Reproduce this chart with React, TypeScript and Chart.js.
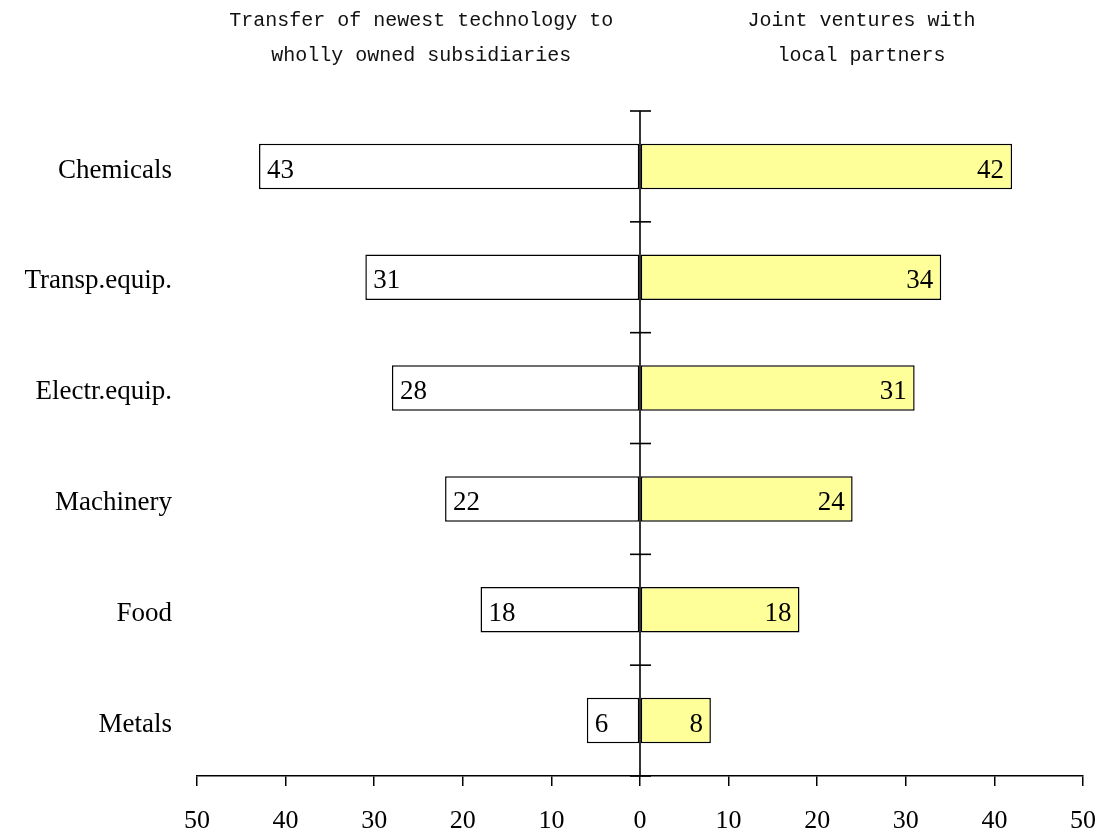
import React, { useEffect, useRef } from "react";
import { Chart, registerables } from "chart.js";

Chart.register(...registerables);

const categories = ["Chemicals", "Transp.equip.", "Electr.equip.", "Machinery", "Food", "Metals"];
const whollyOwned = [43, 31, 28, 22, 18, 6];
const jointVentures = [42, 34, 31, 24, 18, 8];
const xMin = -50;
const xMax = 50;
const xStep = 10;
const leftHeader = ["Transfer of newest technology to", "wholly owned subsidiaries"];
const rightHeader = ["Joint ventures with", "local partners"];

const SERIF = "'Liberation Serif', 'Times New Roman', serif";
const MONO = "'Liberation Mono', 'Courier New', monospace";

const overlayPlugin = {
  id: "overlay",
  afterDatasetsDraw(chart: any) {
    const ctx = chart.ctx;
    const xs = chart.scales.x;
    const ys = chart.scales.y;
    const area = chart.chartArea;
    const x0 = xs.getPixelForValue(0);
    ctx.save();
    ctx.strokeStyle = "#000";
    ctx.lineWidth = 1.6;
    ctx.beginPath();
    ctx.moveTo(x0, area.top);
    ctx.lineTo(x0, area.bottom);
    ctx.stroke();
    const n = categories.length;
    for (let i = 0; i <= n; i++) {
      const y = i === 0 ? area.top : i === n ? area.bottom : (ys.getPixelForValue(i - 1) + ys.getPixelForValue(i)) / 2;
      ctx.beginPath();
      ctx.moveTo(x0 - 10, y);
      ctx.lineTo(x0 + 11, y);
      ctx.stroke();
    }
    ctx.fillStyle = "#000";
    ctx.font = `27px ${SERIF}`;
    ctx.textAlign = "right";
    ctx.textBaseline = "middle";
    categories.forEach((c, i) => {
      ctx.fillText(c, area.left - 25, ys.getPixelForValue(i) + 4);
    });
    const m0 = chart.getDatasetMeta(0);
    const m1 = chart.getDatasetMeta(1);
    m0.data.forEach((bar: any, i: number) => {
      ctx.textAlign = "left";
      ctx.fillText(String(whollyOwned[i]), bar.x + 8, bar.y + 4);
    });
    m1.data.forEach((bar: any, i: number) => {
      ctx.textAlign = "right";
      ctx.fillText(String(jointVentures[i]), bar.x - 8, bar.y + 4);
    });
    ctx.font = `20px ${MONO}`;
    ctx.fillStyle = "#111";
    ctx.textAlign = "center";
    const lx = xs.getPixelForValue(-24.7);
    const rx = xs.getPixelForValue(25);
    leftHeader.forEach((t, i) => ctx.fillText(t, lx, 21 + i * 35));
    rightHeader.forEach((t, i) => ctx.fillText(t, rx, 21 + i * 35));
    ctx.restore();
  },
};

export default function App() {
  const ref = useRef<HTMLCanvasElement>(null);
  useEffect(() => {
    document.body.style.margin = "0";
    const chart = new Chart(ref.current as HTMLCanvasElement, {
      type: "bar",
      data: {
        labels: categories,
        datasets: [
          {
            label: "Wholly owned",
            data: whollyOwned.map((v) => -v),
            backgroundColor: "#ffffff",
            borderColor: "#000",
            borderWidth: 1.5,
            borderSkipped: false,
            barPercentage: 0.41,
            categoryPercentage: 1,
          },
          {
            label: "Joint ventures",
            data: jointVentures,
            backgroundColor: "#ffff99",
            borderColor: "#000",
            borderWidth: 1.5,
            borderSkipped: false,
            barPercentage: 0.41,
            categoryPercentage: 1,
          },
        ],
      },
      options: {
        indexAxis: "y",
        animation: false,
        responsive: true,
        maintainAspectRatio: false,
        layout: { padding: { left: 197, right: 18, top: 111, bottom: 0 } },
        plugins: { legend: { display: false }, tooltip: { enabled: false } },
        scales: {
          x: {
            stacked: true,
            min: xMin,
            max: xMax,
            afterFit: (scale: any) => {
              scale.height = 59;
              scale.paddingRight = 0;
              scale.paddingLeft = 0;
            },
            grid: { display: true, drawOnChartArea: false, drawTicks: true, tickLength: 10, color: "#000", lineWidth: 1.5 },
            border: { display: true, color: "#000", width: 1.5 },
            ticks: {
              stepSize: xStep,
              autoSkip: false,
              maxRotation: 0,
              padding: 20,
              color: "#000",
              font: { family: SERIF, size: 26 },
              callback: (v: any) => String(Math.abs(Number(v))),
            },
          },
          y: { stacked: true, display: false },
        },
      },
      plugins: [overlayPlugin],
    });
    return () => chart.destroy();
  }, []);
  return (
    <div style={{ width: 1101, height: 835, position: "relative" }}>
      <canvas ref={ref} />
    </div>
  );
}
